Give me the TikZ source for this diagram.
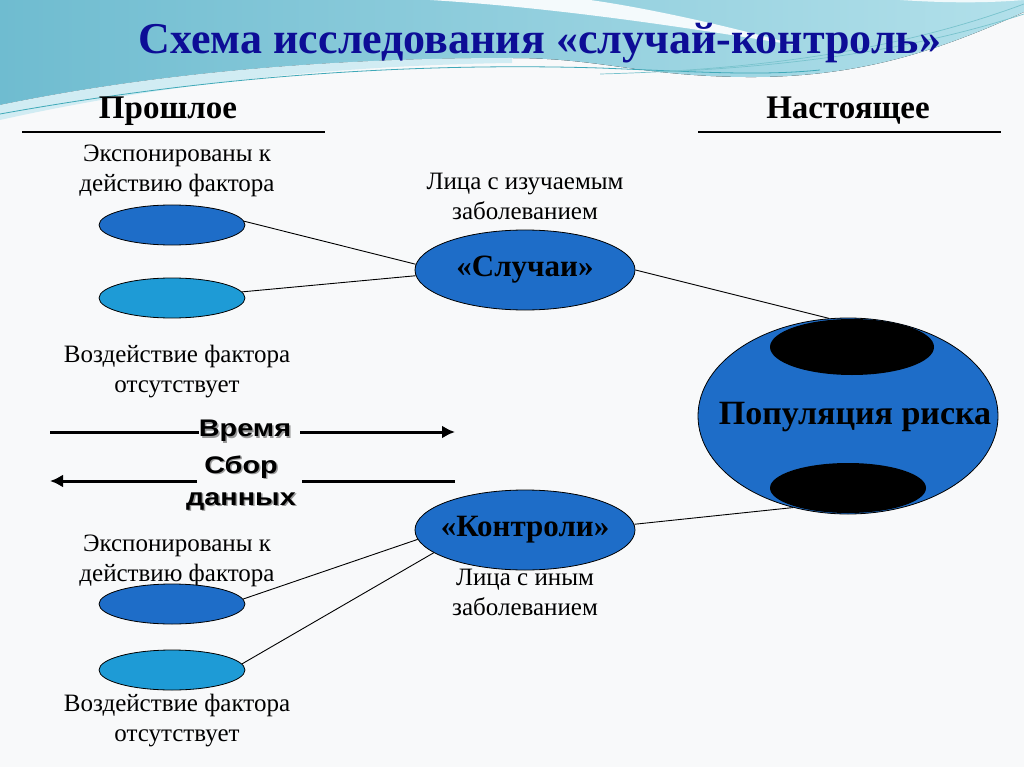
\documentclass[tikz,border=0pt]{standalone}
\usepackage{fontspec}
\setmainfont{Liberation Serif}
\setsansfont{Liberation Sans}
\usetikzlibrary{shapes.geometric,arrows.meta}
\definecolor{bg}{HTML}{F8F9FA}
\definecolor{tealA}{HTML}{6FBCD0}
\definecolor{tealB}{HTML}{B2E0EA}
\definecolor{tealL}{HTML}{3FA9B8}
\definecolor{navy}{HTML}{0D0D96}
\definecolor{blueA}{HTML}{1E6DC8}
\definecolor{blueB}{HTML}{1E9BD6}
\tikzset{
  oval/.style={ellipse,draw=black,line width=0.8pt,inner sep=0pt},
  smalloval/.style={oval,minimum width=146pt,minimum height=40pt},
  bigoval/.style={oval,fill=blueA,minimum width=220pt,minimum height=80pt},
  bigtxt/.style={font=\fontsize{31}{34}\selectfont\bfseries,inner sep=0pt},
  blackoval/.style={ellipse,fill=black,inner sep=0pt},
  small/.style={font=\fontsize{25}{30}\selectfont,align=center,inner sep=0pt},
  header/.style={font=\fontsize{33}{36}\selectfont\bfseries,inner sep=0pt},
  arrtxt/.style={font=\fontsize{24}{32}\selectfont\sffamily\bfseries,align=center,inner sep=0pt},
  arrshadow/.style={arrtxt,text=black!40},
  arrline/.style={line width=3pt},
  link/.style={line width=0.9pt},
}
\begin{document}
\begin{tikzpicture}[x=1pt,y=-1pt]
\useasboundingbox (0,0) rectangle (1024,767);
\fill[bg] (0,0) rectangle (1024,767);
% top wave
\fill[left color=tealA,right color=tealB] (0,0) -- (1024,0) -- (1024,12)
  .. controls (940,50) and (860,78) .. (745,77)
  .. controls (640,76) and (600,58) .. (512,58)
  .. controls (350,58) and (170,70) .. (0,105) -- cycle;
\fill[tealB!60!white] (0,105) .. controls (170,70) and (350,58) .. (512,58)
  -- (512,63) .. controls (350,65) and (170,82) .. (0,120) -- cycle;
\fill[white!85!tealB] (430,0) .. controls (560,8) and (690,28) .. (800,46)
  .. controls (700,18) and (620,4) .. (590,0) -- cycle;
\fill[white!80!tealB] (900,0) .. controls (960,4) and (1000,2) .. (1024,0) -- cycle;
\draw[tealL,line width=0.8pt] (0,114) .. controls (200,78) and (400,62) .. (600,68)
  .. controls (700,72) and (760,76) .. (820,70);
\draw[tealL!70!white,line width=0.7pt] (1024,4) .. controls (900,50) and (760,70) .. (600,74);
\draw[tealL!70!white,line width=0.7pt] (1024,14) .. controls (920,48) and (800,66) .. (660,72);
% title
\node[font=\fontsize{44}{48}\selectfont\bfseries,text=navy,inner sep=0pt] (title) at (540,43)
  {Схема исследования «случай-контроль»};
% headers
\node[header] (past) at (168,111) {Прошлое};
\node[header] (now) at (848,111) {Настоящее};
\draw[line width=1.2pt] (22,132) -- (325,132);
\draw[line width=1.2pt] (698,132) -- (1001,132);
% left texts
\node[small] (t1) at (177,171) {Экспонированы к\\действию фактора};
\node[small] (t2) at (177,372) {Воздействие фактора\\отсутствует};
\node[small] (t3) at (177,561) {Экспонированы к\\действию фактора};
\node[small] (t4) at (177,721) {Воздействие фактора\\отсутствует};
\node[small] (t5) at (525,196) {Лица с изучаемым\\заболеванием};
\node[small] (t6) at (525,592) {Лица с иным\\заболеванием};
% small ovals
\node[smalloval,fill=blueA] (e1) at (172,225) {};
\node[smalloval,fill=blueB] (e2) at (172,298) {};
\node[smalloval,fill=blueA] (e3) at (172,604) {};
\node[smalloval,fill=blueB] (e4) at (172,670) {};
% cases / controls
\node[bigoval] (cases) at (525,270) {};
\node[bigtxt] (casestxt) at (cases.center) {«Случаи»};
\node[bigoval] (ctrl) at (525,530) {};
\node[bigtxt] (ctrltxt) at (ctrl.center) {«Контроли»};
% population
\node[oval,fill=blueA,minimum width=300pt,minimum height=196pt] (pop) at (848,416) {};
\node[blackoval,minimum width=164pt,minimum height=56pt] (btop) at (852,347) {};
\node[blackoval,minimum width=156pt,minimum height=50pt] (bbot) at (848,488) {};
\node[font=\fontsize{34}{38}\selectfont\bfseries,inner sep=0pt] (poptxt) at (855,417) {Популяция риска};
% connectors
\draw[link] (e1.3) -- (cases.177);
\draw[link] (e2.5) -- (cases.183);
\draw[link] (cases.east) -- (pop.101);
\draw[link] (ctrl.3) -- (pop.239);
\draw[link] (e3.4) -- (ctrl.185);
\draw[link] (e4.5) -- (ctrl.194);
% time arrows
\node[arrshadow] at (246.5,432.5) {\scalebox{1.2}[1]{Время}};
\node[arrtxt] (vr) at (245,431) {\scalebox{1.2}[1]{Время}};
\node[arrshadow] at (242.5,484.5) {\scalebox{1.2}[1]{Сбор}\\\scalebox{1.2}[1]{данных}};
\node[arrtxt] (sd) at (241,483) {\scalebox{1.2}[1]{Сбор}\\\scalebox{1.2}[1]{данных}};
\coordinate (ta) at (50,432);
\coordinate (tb) at (455,432);
\coordinate (sa) at (197,481);
\coordinate (sb) at (302,481);
\coordinate (sL) at (50,481);
\coordinate (sR) at (455,481);
\draw[arrline] (ta) -- (vr.west |- ta);
\draw[arrline,-{Latex[length=13pt,width=13pt]}] ([xshift=9pt]vr.east |- tb) -- (tb);
\draw[arrline,-{Latex[length=13pt,width=13pt]}] (sa) -- (sL);
\draw[arrline] (sb) -- (sR);
\end{tikzpicture}
\end{document}
